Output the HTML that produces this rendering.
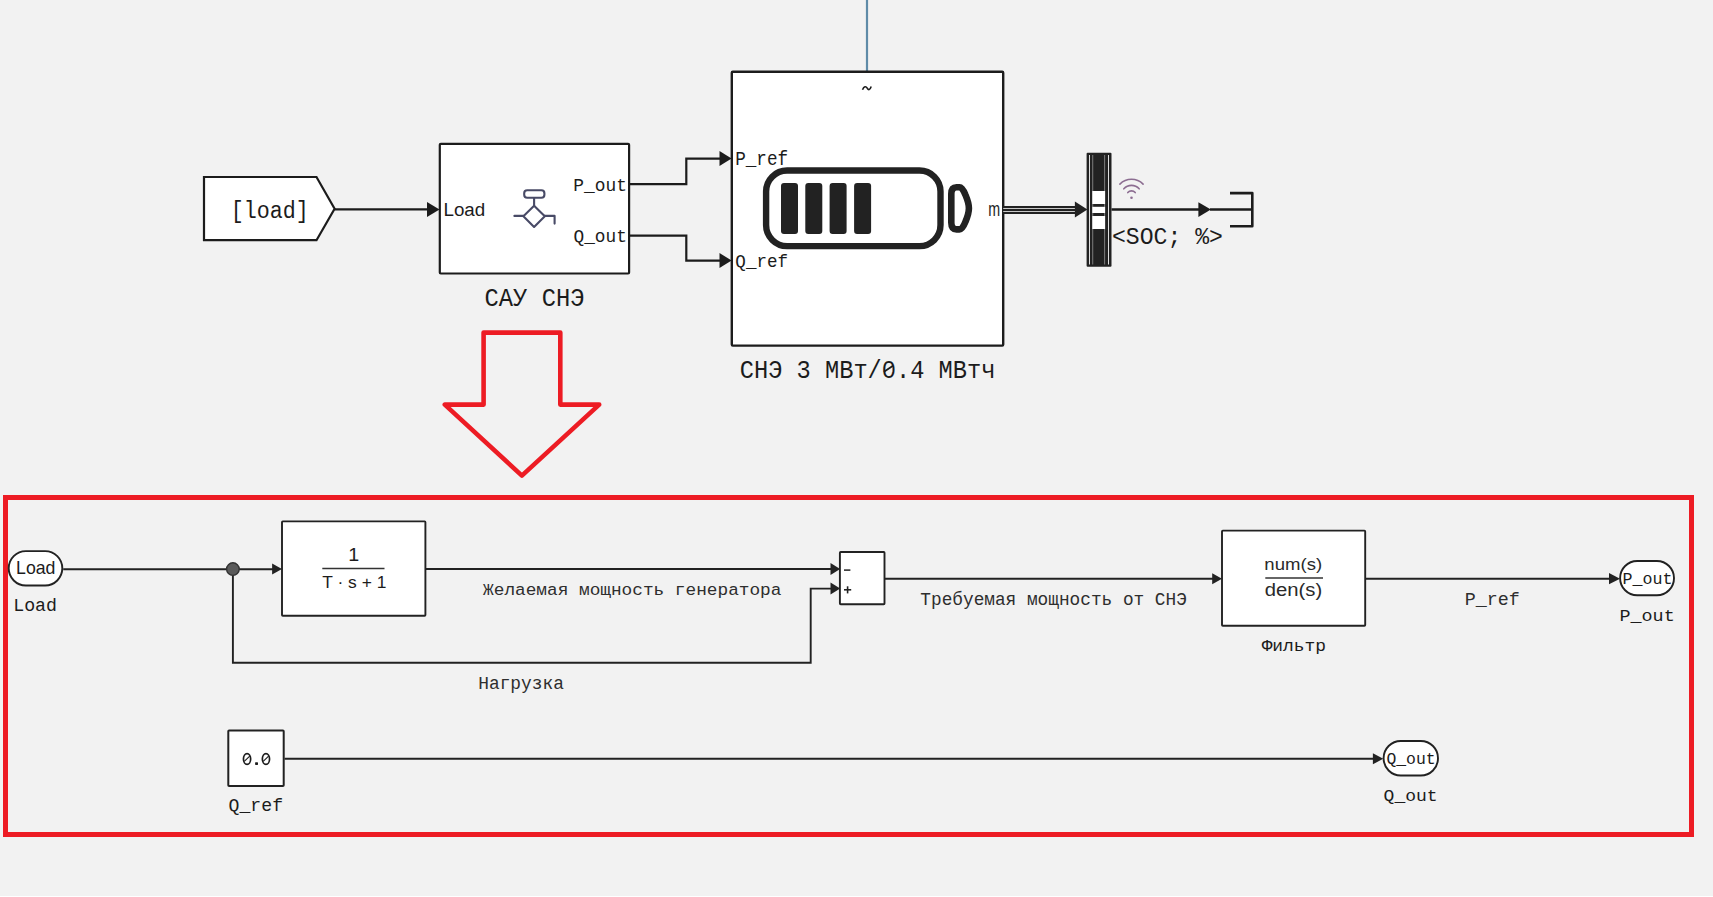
<!DOCTYPE html>
<html><head><meta charset="utf-8"><title>Simulink</title>
<style>
html,body{margin:0;padding:0;background:#f2f2f2;overflow:hidden;}
svg{display:block;}
</style></head><body>
<svg width="1713" height="897" viewBox="0 0 1713 897">
<rect x="0" y="0" width="1713" height="897" fill="#f2f2f2"/>
<!-- top diagram -->
<line x1="867" y1="0" x2="867" y2="71" stroke="#5f8ba8" stroke-width="2.2"/>
<rect x="731.8" y="71.8" width="271.4" height="273.8" fill="#fff" stroke="#1c1c1c" stroke-width="2.4" rx="1"/>
<path d="M862.5,89.8 C864,86 866,86 867.2,88.2 C868.4,90.3 870,90.3 871.2,86.6" fill="none" stroke="#1c1c1c" stroke-width="1.6"/>
<rect x="439.8" y="143.8" width="189.3" height="129.7" fill="#fff" stroke="#1c1c1c" stroke-width="2.2" rx="1"/>
<polygon points="204,177 316.5,177 334.6,208.8 316.5,240.2 204,240.2" fill="#fff" stroke="#1c1c1c" stroke-width="2.2"/>
<path d="M334.6,209.3 H428" fill="none" stroke="#1c1c1c" stroke-width="2.2"/>
<polygon points="427,202 439.5,209.5 427,217" fill="#1c1c1c"/>
<path d="M629,184.1 H686.3 V158.6 H720" fill="none" stroke="#1c1c1c" stroke-width="2.2"/>
<polygon points="719.5,151 731.6,158.6 719.5,166" fill="#1c1c1c"/>
<path d="M629,235.6 H686.3 V260.6 H720" fill="none" stroke="#1c1c1c" stroke-width="2.2"/>
<polygon points="719.5,253 731.6,260.6 719.5,268" fill="#1c1c1c"/>
<!-- valve icon -->
<g fill="none" stroke="#484a66" stroke-width="2.1" stroke-linecap="round" stroke-linejoin="round">
<rect x="524.2" y="190.2" width="20.2" height="7.5" rx="3"/>
<path d="M534.1,198 V205.7"/>
<path d="M534.1,205.7 L544.8,216.2 L534.1,226.9 L523.4,216.2 Z"/>
<path d="M514.4,215.9 H523.4 M544.8,215.9 H554.6 V223.6"/>
</g>
<!-- battery -->
<rect x="766.1" y="170.5" width="174.4" height="75.6" rx="21" fill="none" stroke="#222" stroke-width="6.4"/>
<rect x="781" y="183.1" width="17" height="51" rx="3" fill="#222"/>
<rect x="805.3" y="183.1" width="17" height="51" rx="3" fill="#222"/>
<rect x="829.6" y="183.1" width="17" height="51" rx="3" fill="#222"/>
<rect x="854.1" y="183.1" width="17" height="51" rx="3" fill="#222"/>
<path d="M951.3,194 Q951.3,187.2 956.5,187.2 L959.5,187.2 Q962.5,187.2 965.5,195 Q968.9,203 968.9,208.3 Q968.9,213.6 965.5,221.6 Q962.5,229.4 959.5,229.4 L956.5,229.4 Q951.3,229.4 951.3,222.6 Z" fill="none" stroke="#222" stroke-width="6.6"/>
<!-- bus -->
<rect x="1003.2" y="206" width="72" height="8" fill="#222"/>
<rect x="1003.2" y="208" width="72" height="1" fill="#c8c8c8"/>
<rect x="1003.2" y="211" width="72" height="1" fill="#c8c8c8"/>
<polygon points="1074.9,201.6 1087.4,209.5 1074.9,217.4" fill="#222"/>
<rect x="1086.6" y="152.8" width="24.9" height="113.9" rx="1" fill="#222"/>
<rect x="1089" y="155" width="1" height="109.5" fill="#e0e0e0"/>
<rect x="1108" y="155" width="1" height="109.5" fill="#e0e0e0"/>
<rect x="1092.3" y="155" width="0.9" height="109.5" fill="#888"/>
<rect x="1104.2" y="155" width="0.9" height="109.5" fill="#888"/>
<rect x="1092.3" y="191" width="12.8" height="13" fill="#fff"/>
<rect x="1092.3" y="206.8" width="12.8" height="6.2" fill="#fff"/>
<rect x="1092.3" y="216" width="12.8" height="13" fill="#fff"/>
<path d="M1111.5,209.4 H1199 M1210,209.4 H1252.3" fill="none" stroke="#1c1c1c" stroke-width="2.5"/>
<polygon points="1198.4,202.2 1210.9,209.5 1198.4,216.9" fill="#1c1c1c"/>
<path d="M1230,193.1 H1252.3 V226.2 H1230" fill="none" stroke="#1c1c1c" stroke-width="2.6" stroke-linejoin="round"/>
<g fill="none" stroke="#8c6d91" stroke-width="1.6" stroke-linecap="round">
<path d="M1119.9,184.1 A16.4,16.4 0 0 1 1143.1,184.1"/>
<path d="M1123.85,188.8 A10.3,10.3 0 0 1 1139.15,188.8"/>
<path d="M1127.8,192.6 A4.8,4.8 0 0 1 1135.2,192.6"/>
</g>
<circle cx="1131.5" cy="197.7" r="1.3" fill="#8c6d91"/>
<!-- red arrow & frame -->
<polygon points="483.6,332.6 560.3,332.6 560.3,404.6 599.2,404.6 521.9,475.6 444.8,404.6 483.6,404.6" fill="none" stroke="#ed1c24" stroke-width="4.6" stroke-linejoin="round"/>
<rect x="5.5" y="497.5" width="1686" height="337" fill="none" stroke="#ed1c24" stroke-width="5"/>
<!-- bottom diagram -->
<rect x="8.7" y="551.1" width="53.6" height="34.4" rx="17.2" fill="#fff" stroke="#222" stroke-width="1.9"/>
<path d="M63.2,569.2 H273" fill="none" stroke="#222" stroke-width="1.9"/>
<polygon points="272.1,563.6 282,569.1 272.1,574.6" fill="#222"/>
<rect x="282" y="521.4" width="143.4" height="94.3" fill="#fff" stroke="#222" stroke-width="1.9" rx="0.8"/>
<line x1="322.3" y1="568.4" x2="384.5" y2="568.4" stroke="#333" stroke-width="1.5"/>
<path d="M425.4,569 H831 M232.9,569 V662.7 H810.7 V588.6 H831" fill="none" stroke="#222" stroke-width="1.9"/>
<circle cx="232.9" cy="569.1" r="6.3" fill="#5a5a5a" stroke="#333" stroke-width="1.4"/>
<polygon points="830.5,563 840.2,569 830.5,575" fill="#222"/>
<polygon points="830.5,582.6 840.2,588.6 830.5,594.6" fill="#222"/>
<rect x="839.9" y="552" width="44.6" height="52.2" fill="#fff" stroke="#222" stroke-width="1.9" rx="0.8"/>
<line x1="844" y1="570.1" x2="850.4" y2="570.1" stroke="#222" stroke-width="1.5"/>
<line x1="844" y1="589.8" x2="851.2" y2="589.8" stroke="#222" stroke-width="1.6"/>
<line x1="847.6" y1="586.3" x2="847.6" y2="593.4" stroke="#222" stroke-width="1.6"/>
<path d="M884.5,578.8 H1213" fill="none" stroke="#222" stroke-width="1.9"/>
<polygon points="1212.2,573.2 1222,578.7 1212.2,584.2" fill="#222"/>
<rect x="1222" y="530.6" width="143.2" height="95.1" fill="#fff" stroke="#222" stroke-width="1.9" rx="0.8"/>
<line x1="1265.3" y1="578.1" x2="1323" y2="578.1" stroke="#333" stroke-width="1.5"/>
<path d="M1365.2,578.7 H1610" fill="none" stroke="#222" stroke-width="1.9"/>
<polygon points="1609,573.1 1620,578.7 1609,584.3" fill="#222"/>
<rect x="1620.1" y="561" width="53.9" height="34.3" rx="17.1" fill="#fff" stroke="#222" stroke-width="1.9"/>
<rect x="228.3" y="730.5" width="55.4" height="55.5" fill="#fff" stroke="#222" stroke-width="2" rx="0.8"/>
<path d="M284.5,758.8 H1374" fill="none" stroke="#222" stroke-width="1.9"/>
<polygon points="1372.9,753.3 1383.2,758.7 1372.9,764.3" fill="#222"/>
<rect x="1383.6" y="741" width="54.4" height="34.5" rx="17.2" fill="#fff" stroke="#222" stroke-width="1.9"/>

<rect x="0" y="896" width="1713" height="1" fill="#ffffff"/>

<text transform="translate(230.65,217.50) scale(0.8995,1)" font-family='"Liberation Mono", monospace' font-size="24.15" fill="#1c1c1c"  xml:space="preserve">[load]</text>
<text transform="translate(443.46,215.50) scale(0.9932,1)" font-family='"Liberation Sans", sans-serif' font-size="18.90" fill="#1c1c1c"  xml:space="preserve">Load</text>
<text transform="translate(573.29,190.70) scale(0.9425,1)" font-family='"Liberation Mono", monospace' font-size="18.98" fill="#1c1c1c"  xml:space="preserve">P_out</text>
<text transform="translate(573.51,242.20) scale(1.0181,1)" font-family='"Liberation Mono", monospace' font-size="17.49" fill="#1c1c1c"  xml:space="preserve">Q_out</text>
<text transform="translate(484.59,305.90) scale(0.9163,1)" font-family='"Liberation Mono", monospace' font-size="25.96" fill="#1c1c1c"  xml:space="preserve">САУ СНЭ</text>
<text transform="translate(735.21,164.90) scale(0.9005,1)" font-family='"Liberation Mono", monospace' font-size="19.58" fill="#1c1c1c"  xml:space="preserve">P_ref</text>
<text transform="translate(735.32,266.70) scale(0.9268,1)" font-family='"Liberation Mono", monospace' font-size="18.99" fill="#1c1c1c"  xml:space="preserve">Q_ref</text>
<text transform="translate(988.35,215.90) scale(0.7314,1)" font-family='"Liberation Sans", sans-serif' font-size="19.51" fill="#1c1c1c"  xml:space="preserve">m</text>
<text transform="translate(1111.99,243.50) scale(0.9312,1)" font-family='"Liberation Mono", monospace' font-size="24.82" fill="#1c1c1c"  xml:space="preserve">&lt;SOC; %&gt;</text>
<text transform="translate(739.79,378.10) scale(0.9341,1)" font-family='"Liberation Mono", monospace' font-size="25.35" fill="#1c1c1c"  xml:space="preserve">СНЭ 3 МВт/0.4 МВтч</text>
<text transform="translate(16.05,573.90) scale(0.9746,1)" font-family='"Liberation Sans", sans-serif' font-size="18.17" fill="#1c1c1c"  xml:space="preserve">Load</text>
<text transform="translate(13.19,610.60) scale(0.9619,1)" font-family='"Liberation Mono", monospace' font-size="18.98" fill="#1c1c1c"  xml:space="preserve">Load</text>
<text transform="translate(348.30,560.80) scale(1.1303,1)" font-family='"Liberation Sans", sans-serif' font-size="17.44" fill="#1c1c1c"  xml:space="preserve">1</text>
<text transform="translate(322.31,587.70) scale(1.0238,1)" font-family='"Liberation Sans", sans-serif' font-size="17.01" fill="#1c1c1c"  xml:space="preserve">T · s + 1</text>
<text transform="translate(483.10,594.80) scale(1.0549,1)" font-family='"Liberation Mono", monospace' font-size="16.85" fill="#2e2e2e"  xml:space="preserve">Желаемая мощность генератора</text>
<text transform="translate(478.19,688.70) scale(1.0150,1)" font-family='"Liberation Mono", monospace' font-size="17.61" fill="#2e2e2e"  xml:space="preserve">Нагрузка</text>
<text transform="translate(920.34,605.00) scale(0.9441,1)" font-family='"Liberation Mono", monospace' font-size="18.83" fill="#2e2e2e"  xml:space="preserve">Требуемая мощность от СНЭ</text>
<text transform="translate(1264.37,570.30) scale(1.0746,1)" font-family='"Liberation Sans", sans-serif' font-size="17.28" fill="#2a2a2a"  xml:space="preserve">num(s)</text>
<text transform="translate(1264.75,596.00) scale(1.1486,1)" font-family='"Liberation Sans", sans-serif' font-size="17.66" fill="#2a2a2a"  xml:space="preserve">den(s)</text>
<text transform="translate(1261.63,650.80) scale(1.0425,1)" font-family='"Liberation Mono", monospace' font-size="17.18" fill="#1c1c1c"  xml:space="preserve">Фильтр</text>
<text transform="translate(1464.64,604.60) scale(1.0188,1)" font-family='"Liberation Mono", monospace' font-size="18.07" fill="#2e2e2e"  xml:space="preserve">P_ref</text>
<text transform="translate(1622.38,583.60) scale(0.9809,1)" font-family='"Liberation Mono", monospace' font-size="17.00" fill="#1c1c1c"  xml:space="preserve">P_out</text>
<text transform="translate(1619.44,620.80) scale(1.0736,1)" font-family='"Liberation Mono", monospace' font-size="17.16" fill="#1c1c1c"  xml:space="preserve">P_out</text>
<text transform="translate(228.60,810.90) scale(1.0377,1)" font-family='"Liberation Mono", monospace' font-size="17.49" fill="#1c1c1c"  xml:space="preserve">Q_ref</text>
<text transform="translate(1386.38,763.90) scale(0.9479,1)" font-family='"Liberation Mono", monospace' font-size="17.34" fill="#1c1c1c"  xml:space="preserve">Q_out</text>
<text transform="translate(1383.60,800.90) scale(1.0391,1)" font-family='"Liberation Mono", monospace' font-size="17.34" fill="#1c1c1c"  xml:space="preserve">Q_out</text>
<g fill="none" stroke="#1c1c1c" stroke-width="1.7">
<ellipse cx="247.05" cy="759" rx="3.6" ry="5.35"/>
<ellipse cx="265.95" cy="759" rx="3.6" ry="5.35"/>
<line x1="249.7" y1="756.1" x2="244.3" y2="761.4" stroke-width="1.1"/>
<line x1="268.6" y1="756.1" x2="263.2" y2="761.4" stroke-width="1.1"/>
</g>
<rect x="255.1" y="762.2" width="2.9" height="2.7" rx="0.6" fill="#1c1c1c"/>
<rect x="886.6" y="366.6" width="5.6" height="5.4" fill="#f2f2f2"/>
<line x1="893" y1="365.7" x2="884" y2="371.8" stroke="#1c1c1c" stroke-width="1.7"/>
</svg>
</body></html>
